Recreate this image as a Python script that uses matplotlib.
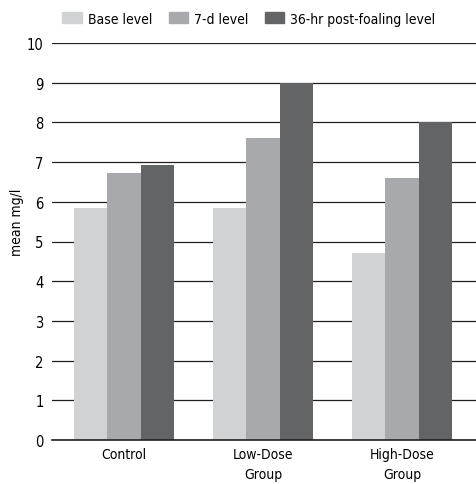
import numpy as np
import matplotlib
matplotlib.use('Agg')
import matplotlib.pyplot as plt
from matplotlib.patches import Patch

plt.rcParams['font.family'] = ['DejaVu Sans']
plt.rcParams['font.stretch'] = 'condensed'

groups = ['Control', 'Low-Dose\nGroup', 'High-Dose\nGroup']
base_level = [5.85, 5.85, 4.7]
day7_level = [6.72, 7.6, 6.6]
post_foaling = [6.92, 9.0, 8.0]
series_names = ['Base level', '7-d level', '36-hr post-foaling level']
colors = ['#d1d2d4', '#a7a9ac', '#636466']

fig = plt.figure(figsize=(4.77, 4.85), dpi=100)
ax = fig.add_axes([52 / 477, 1 - 441 / 485, 425 / 477, 397 / 485])

x = np.arange(len(groups))
w = 0.242
for i, vals in enumerate([base_level, day7_level, post_foaling]):
    ax.bar(x + (i - 1) * w, vals, width=w, color=colors[i], zorder=3)

ax.set_ylim(0, 10)
ax.set_xlim(-0.518, 2.54)
ax.set_yticks(range(0, 11))
ax.yaxis.grid(True, color='#231f20', linewidth=0.9, zorder=0)
for s in ['top', 'right', 'left']:
    ax.spines[s].set_visible(False)
ax.spines['bottom'].set_color('#231f20')
ax.spines['bottom'].set_linewidth(1.2)
ax.spines['bottom'].set_zorder(4)
ax.tick_params(axis='y', length=0, pad=6, labelsize=10.5)
ax.tick_params(axis='x', length=0, pad=5, labelsize=10)
ax.set_xticks(x)
ax.set_xticklabels(groups, linespacing=1.55)
ax.set_ylabel('mean mg/l', fontsize=10)
ax.yaxis.set_label_coords(-0.066, 0.55)

handles = [Patch(color=c) for c in colors]
fig.legend(handles, series_names, loc='upper left', bbox_to_anchor=(50 / 477, 1.0),
           ncol=3, frameon=False, fontsize=10, handlelength=1.4, handleheight=0.85,
           handletextpad=0.45, columnspacing=1.15)

fig.savefig('out.png', dpi=100)
